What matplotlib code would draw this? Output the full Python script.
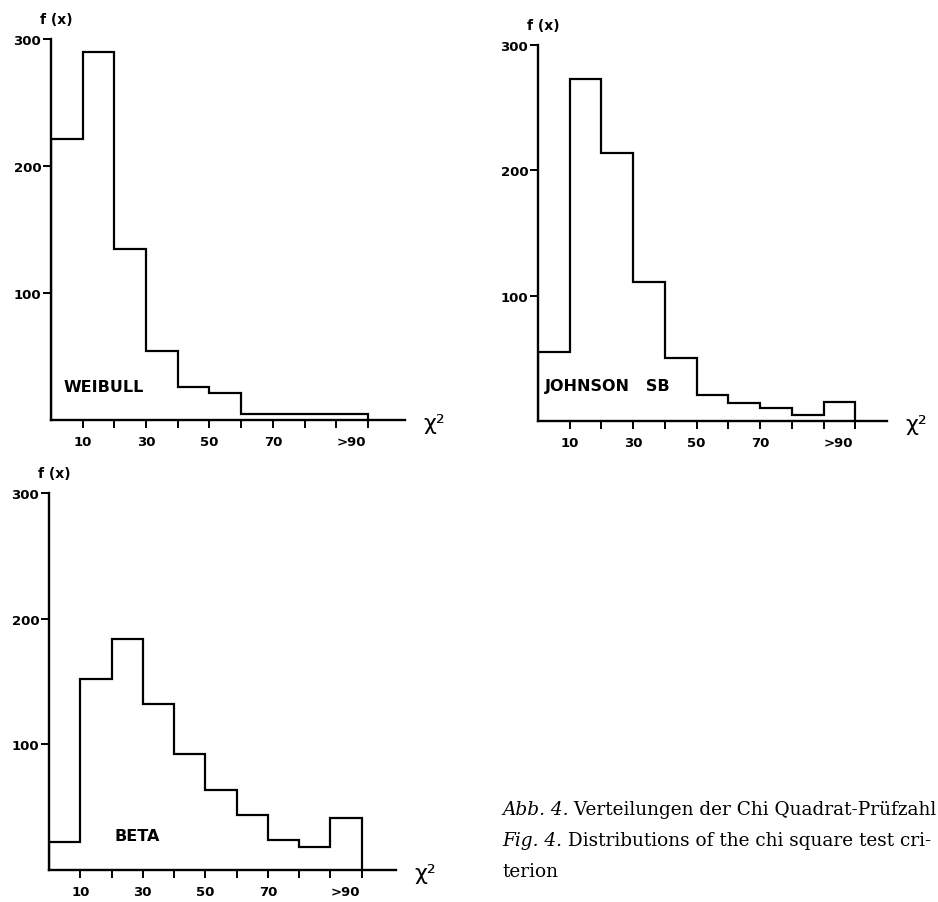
import matplotlib
matplotlib.use("Agg")
import matplotlib.pyplot as plt

# chi square classes (width 10, last class is ">90")
bin_edges = [0, 10, 20, 30, 40, 50, 60, 70, 80, 90, 100]
major_ticks = [10, 30, 50, 70, 90]
major_labels = ["10", "30", "50", "70", ">90"]
minor_ticks = [20, 40, 60, 80, 100]
y_ticks = [100, 200, 300]

weibull = [221, 290, 135, 54, 26, 21, 5, 5, 5, 5]
johnson_sb = [55, 273, 214, 111, 50, 21, 14, 10, 5, 15]
beta = [22, 152, 184, 132, 92, 64, 44, 24, 18, 41]

W, H = 938, 903
fig = plt.figure(figsize=(W / 100, H / 100), dpi=100)

SANS = "DejaVu Sans"
SERIF = "DejaVu Serif"


def px_axes(left, top, right, bottom):
    return fig.add_axes([left / W, 1 - bottom / H, (right - left) / W, (bottom - top) / H])


def histogram(ax, values, name, name_pos, xmax):
    ax.stairs(values, bin_edges, baseline=0, color="black", linewidth=1.6)
    ax.set_xlim(0, xmax)
    ax.set_ylim(0, 300)
    for side in ["top", "right"]:
        ax.spines[side].set_visible(False)
    for side in ["left", "bottom"]:
        ax.spines[side].set_linewidth(1.7)
    ax.set_xticks(major_ticks, major_labels)
    ax.set_xticks(minor_ticks, minor=True)
    ax.set_yticks(y_ticks)
    ax.tick_params(axis="x", which="both", direction="out", length=6, width=1.4, pad=5)
    ax.tick_params(axis="y", direction="out", length=6, width=1.4, pad=1)
    for lab in ax.get_xticklabels() + ax.get_yticklabels():
        lab.set_fontfamily(SANS)
        lab.set_fontweight("bold")
        lab.set_fontsize(9.5)
    ax.get_xticklabels()[-1].set_horizontalalignment("left")
    ax.text(name_pos[0], name_pos[1], name, fontfamily=SANS, fontweight="bold",
            fontsize=11.5, va="baseline", ha="left")
    ax.annotate("f (x)", xy=(0, 1), xycoords="axes fraction", xytext=(-11, 20),
                textcoords="offset pixels", fontfamily=SANS, fontweight="bold",
                fontsize=10, ha="left", va="center")
    ax.annotate("χ²", xy=(1, 0), xycoords="axes fraction", xytext=(18, -3),
                textcoords="offset pixels", fontfamily=SANS, fontsize=16,
                ha="left", va="center")


ax1 = px_axes(51, 40, 405, 421)
histogram(ax1, weibull, "WEIBULL", (3.8, 23), 111.7)

ax2 = px_axes(538, 46, 887, 422)
histogram(ax2, johnson_sb, "JOHNSON   SB", (2.2, 25), 110)

ax3 = px_axes(49, 494, 396, 871)
histogram(ax3, beta, "BETA", (21, 24), 111)

# caption, placed on an overlay in pixel coordinates
cap = fig.add_axes([0, 0, 1, 1])
cap.set_xlim(0, W)
cap.set_ylim(H, 0)
cap.axis("off")

caption = [
    ("Abb. 4.", " Verteilungen der Chi Quadrat-Prüfzahl"),
    ("Fig. 4.", " Distributions of the chi square test cri-"),
    ("", "terion"),
]
for i, (it_part, rm_part) in enumerate(caption):
    y = 815 + i * 31
    t = cap.text(502, y, it_part, fontfamily=SERIF, style="italic", fontsize=13.3,
                 va="baseline", ha="left")
    if it_part:
        cap.annotate(rm_part, xy=(1, 0), xycoords=t, fontfamily=SERIF, fontsize=13.3,
                     va="bottom", ha="left")
    else:
        cap.text(502, y, rm_part, fontfamily=SERIF, fontsize=13.3, va="baseline", ha="left")

fig.savefig("out.png", dpi=100)
